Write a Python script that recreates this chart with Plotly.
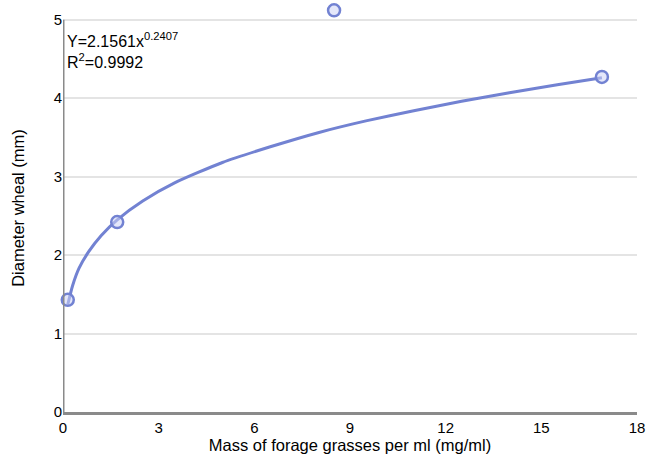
import plotly.graph_objects as go

# Data
mass = [0.15, 1.7, 8.5, 16.9]          # mg/ml
diameter = [1.43, 2.42, 5.12, 4.27]    # mm

# trend curve, points
fit_x = [0.15, 0.3, 0.5, 0.8, 1.2, 1.7, 2.5, 3.5, 5, 6.5, 8, 9.5, 11, 12.5, 14, 15.5, 16.9]
fit_y = [1.37, 1.61, 1.83, 2.04, 2.25, 2.45, 2.69, 2.92, 3.18, 3.38, 3.56, 3.71, 3.84, 3.96, 4.07, 4.17, 4.26]

x_ticks = [0, 3, 6, 9, 12, 15, 18]
y_ticks = [0, 1, 2, 3, 4, 5]

blue = "#7282d2"
font_family = "Liberation Sans, Arial, Helvetica, sans-serif"

fig = go.Figure()
fig.add_trace(go.Scatter(
    x=fit_x, y=fit_y, mode="lines",
    line=dict(color=blue, width=3, shape="spline", smoothing=0.6),
    hoverinfo="skip", showlegend=False,
))
fig.add_trace(go.Scatter(
    x=mass, y=diameter, mode="markers",
    marker=dict(size=12, color="rgba(205,212,245,0.55)",
                line=dict(color=blue, width=2.5)),
    cliponaxis=False, showlegend=False,
))

fig.add_annotation(x=0, y=5, xref="x", yref="y", xanchor="left", yanchor="top",
                   xshift=2, yshift=-8, showarrow=False, align="left",
                   text="Y=2.1561x<sup>0.2407</sup><br>R<sup>2</sup>=0.9992",
                   font=dict(size=16, color="black", family=font_family))

# y axis line (stops at 5 like the reference)
fig.add_shape(type="line", xref="x", yref="y", x0=0, x1=0, y0=0, y1=5,
              line=dict(color="#8a8a8a", width=3), layer="above")

fig.update_layout(
    width=648, height=459,
    margin=dict(l=63, r=11, t=4, b=47),
    paper_bgcolor="white", plot_bgcolor="white",
    font=dict(family=font_family, color="black", size=15),
)
fig.update_xaxes(range=[0, 18], tickvals=x_ticks, showgrid=False,
                 showline=True, linecolor="#8a8a8a", linewidth=3,
                 ticks="", zeroline=False, tickfont=dict(size=15),
                 title=dict(text="Mass of forage grasses per ml (mg/ml)", font=dict(size=16.5), standoff=5))
fig.update_yaxes(range=[0, 5.2], tickvals=y_ticks, showgrid=True, gridcolor="#e4e4e4", gridwidth=1.5,
                 showline=False, ticks="", zeroline=False, tickfont=dict(size=15),
                 title=dict(text="Diameter wheal (mm)", font=dict(size=16.5), standoff=24))

fig.write_html("out.html", config={"displayModeBar": False},
               post_script="document.body.style.margin='0';document.body.style.overflow='hidden';")
